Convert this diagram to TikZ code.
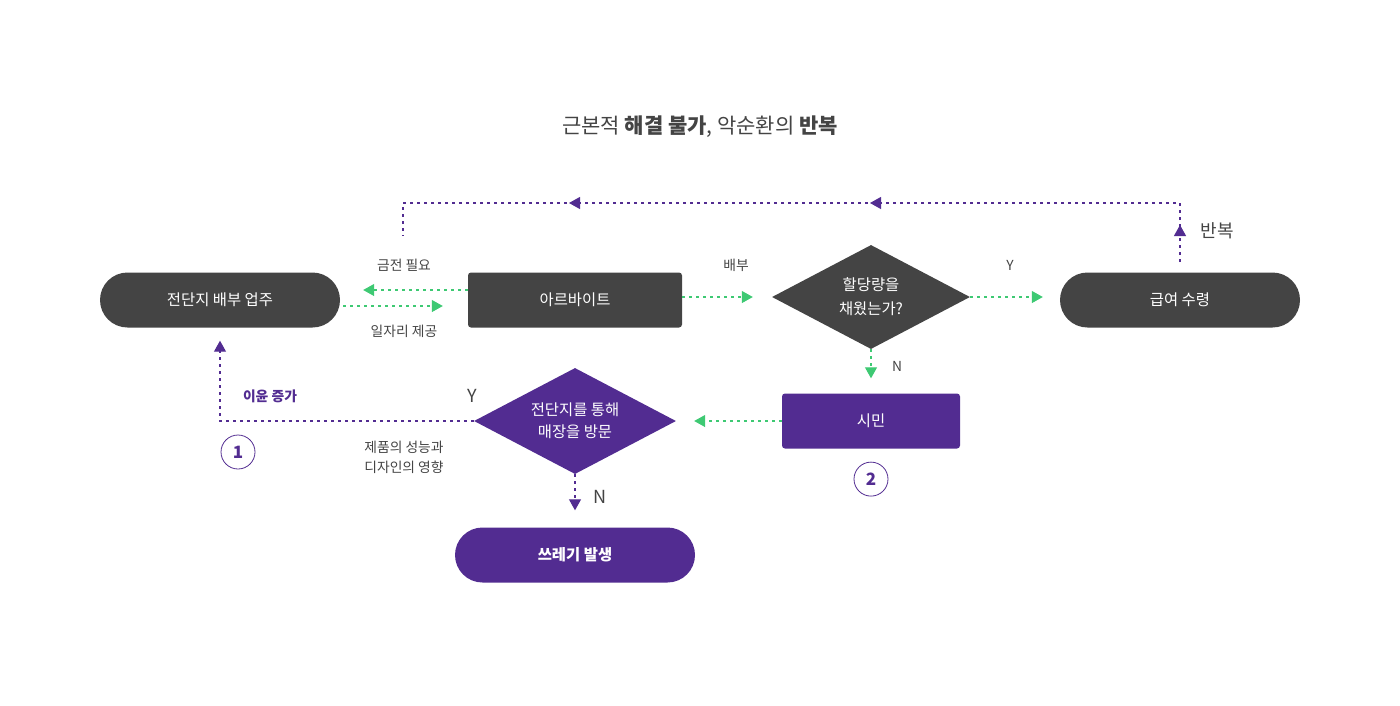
\documentclass[tikz,border=0pt]{standalone}
\usepackage{fontspec}
\setmainfont{Noto Sans CJK KR}
\usepackage{tikz}
\usetikzlibrary{positioning,arrows.meta,shapes.geometric,decorations.markings}

\definecolor{boxgray}{RGB}{68,68,68}
\definecolor{flowpurple}{RGB}{82,44,145}
\definecolor{flowgreen}{RGB}{62,201,115}
\definecolor{labelgray}{RGB}{68,68,68}

\begin{document}
\begin{tikzpicture}[
            x=1pt, y=-1pt,
            pill/.style={rectangle, rounded corners=27.5pt, minimum width=240pt, minimum height=55pt, text=white, font=\fontsize{15.4}{20}\selectfont},
            block/.style={rectangle, rounded corners=3pt, minimum width=214pt, minimum height=55pt, text=white, font=\fontsize{15.4}{20}\selectfont},
            decision/.style={diamond, aspect=2, inner sep=0pt, text=white, align=center, font=\fontsize{15.4}{24}\selectfont},
            tag/.style={text=labelgray, font=\fontsize{13.8}{20}\selectfont, align=center},
            bigtag/.style={text=labelgray, font=\fontsize{18}{20}\selectfont},
            stepnum/.style={circle, draw=flowpurple, line width=0.8pt, minimum size=34pt, inner sep=0pt, text=flowpurple, font=\fontsize{17}{18}\selectfont\bfseries},
            garrow/.style={draw=flowgreen, line width=1.1pt, dash pattern=on 3pt off 4pt, -{Triangle[length=11pt,width=12pt]}},
            parrow/.style={draw=flowpurple, line width=1.1pt, dash pattern=on 3pt off 4pt, -{Triangle[length=11pt,width=12pt]}},
            pline/.style={draw=flowpurple, line width=1.1pt, dash pattern=on 3pt off 4pt}
        ]
        \useasboundingbox (0,0) rectangle (1400,705);
        \node[text=labelgray, font=\fontsize{21}{24}\selectfont] (title) at (700,127) {근본적 \textbf{해결 불가}, 악순환의 \textbf{반복}};
        \node[pill, fill=boxgray] (owner) at (220,300) {전단지 배부 업주};
        \node[block, fill=boxgray] (alba) at (575,300) {아르바이트};
        \node[decision, fill=boxgray, minimum width=198pt, minimum height=104pt] (quota) at (871,297) {할당량을\\채웠는가?};
        \node[pill, fill=boxgray] (salary) at (1180,300) {급여 수령};
        \node[block, fill=flowpurple, minimum width=178pt] (citizen) at (871,421) {시민};
        \node[decision, fill=flowpurple, minimum width=202pt, minimum height=106pt, font=\fontsize{15.4}{22}\selectfont] (visit) at (575,421) {전단지를 통해\\매장을 방문};
        \node[pill, fill=flowpurple, font=\fontsize{15.4}{20}\selectfont\bfseries] (waste) at (575,555) {쓰레기 발생};
        \node[stepnum] (num1) at (238,452) {1};
        \node[stepnum, below=13pt of citizen] (num2) {2};
        % green flow
        \draw[garrow, shorten >=23pt] ([yshift=10pt]alba.west) -- ([yshift=10pt]owner.east);
        \draw[garrow, shorten <=3pt, shorten >=25pt] ([yshift=-6pt]owner.east) -- ([yshift=-6pt]alba.west);
        \draw[garrow, shorten >=19pt] ([yshift=3pt]alba.east) -- (quota.west);
        \draw[garrow, shorten >=17pt] (quota.east) -- ([yshift=3pt]salary.west);
        \draw[garrow, shorten >=15pt] (quota.south) -- (citizen.north);
        \draw[garrow, shorten >=18pt] (citizen.west) -- (visit.east);
        % purple flow
        \draw[parrow, shorten >=13pt] (visit.west) -| (owner.south);
        \draw[parrow, shorten >=17pt] (visit.south) -- (waste.north);
        \coordinate (repStart) at (1180,262);
        \coordinate (repCorner) at (1180,203);
        \coordinate (repLeft) at (403,203);
        \coordinate (repEnd) at (403,236);
        \draw[pline, postaction={decorate}, decoration={markings,
                mark=at position 37pt with {\arrow[flowpurple]{Triangle[length=11pt,width=12pt]}},
                mark=at position 369pt with {\arrow[flowpurple]{Triangle[length=11pt,width=12pt]}},
                mark=at position 670pt with {\arrow[flowpurple]{Triangle[length=11pt,width=12pt]}}}]
            (repStart) -- (repCorner) -- (repLeft) -- (repEnd);
        % labels
        \node[tag] (needmoney) at (404,265) {금전 필요};
        \node[tag] (givejob) at (404,331) {일자리 제공};
        \node[tag] (handout) at (736,265) {배부};
        \node[tag] (quotaY) at (1010,265) {Y};
        \node[tag] (quotaN) at (897,366) {N};
        \node[bigtag] (repeat) at (1217,231) {반복};
        \node[tag, text=flowpurple, font=\fontsize{13.8}{20}\selectfont\bfseries] (profit) at (270,396) {이윤 증가};
        \node[bigtag] (visitY) at (472,396) {Y};
        \node[bigtag] (visitN) at (600,497) {N};
        \node[tag] (design) at (404,457) {제품의 성능과\\디자인의 영향};
\end{tikzpicture}
\end{document}
